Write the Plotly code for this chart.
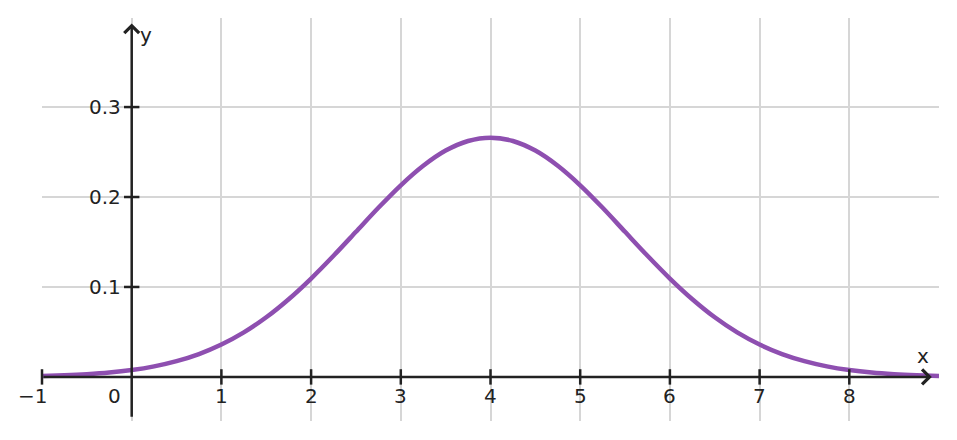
import plotly.graph_objects as go

# data
x_vals = [-1, -0.75, -0.5, -0.25, 0, 0.25, 0.5, 0.75, 1, 1.25, 1.5, 1.75, 2, 2.25, 2.5, 2.75, 3, 3.25,
          3.5, 3.75, 4, 4.25, 4.5, 4.75, 5, 5.25, 5.5, 5.75, 6, 6.25, 6.5, 6.75, 7, 7.25, 7.5, 7.75,
          8, 8.25, 8.5, 8.75, 9]
y_vals = [0.0010, 0.0018, 0.0030, 0.0048, 0.0076, 0.0117, 0.0175, 0.0254, 0.0360, 0.0495, 0.0663,
          0.0864, 0.1094, 0.1347, 0.1613, 0.1880, 0.2130, 0.2347, 0.2516, 0.2623, 0.2660,
          0.2623, 0.2516, 0.2347, 0.2130, 0.1880, 0.1613, 0.1347, 0.1094, 0.0864, 0.0663,
          0.0495, 0.0360, 0.0254, 0.0175, 0.0117, 0.0076, 0.0048, 0.0030, 0.0018, 0.0010]
x_ticks = [-1, 0, 1, 2, 3, 4, 5, 6, 7, 8]
x_tick_labels = ["−1", "0", "1", "2", "3", "4", "5", "6", "7", "8"]
y_ticks = [0.1, 0.2, 0.3]
y_tick_labels = ["0.1", "0.2", "0.3"]

INK = "#222222"
GRID = "#d6d6d6"
CURVE = "#8e4fb0"
FONT = dict(family="DejaVu Sans", size=20, color=INK)

fig = go.Figure()

# curve
fig.add_trace(go.Scatter(x=x_vals, y=y_vals, mode="lines",
                         line=dict(color=CURVE, width=4.5, shape="spline", smoothing=0.8),
                         hoverinfo="skip", showlegend=False, cliponaxis=True))

# tick marks on axes
fig.add_trace(go.Scatter(x=[t for t in x_ticks if t != 0], y=[0] * (len(x_ticks) - 1), mode="markers",
                         marker=dict(symbol="line-ns", size=11, line=dict(color=INK, width=2.5)),
                         hoverinfo="skip", showlegend=False, cliponaxis=False))
fig.add_trace(go.Scatter(x=[0] * len(y_ticks), y=y_ticks, mode="markers",
                         marker=dict(symbol="line-ew", size=11, line=dict(color=INK, width=2.5)),
                         hoverinfo="skip", showlegend=False, cliponaxis=False))

annotations = []
# axes with arrows
annotations.append(dict(x=8.92, y=0, ax=-1, ay=0, xref="x", yref="y", axref="x", ayref="y",
                        text="", showarrow=True, arrowhead=4, arrowsize=1.15, arrowwidth=2.5,
                        arrowcolor=INK))
annotations.append(dict(x=0, y=0.393, ax=0, ay=-0.046, xref="x", yref="y", axref="x", ayref="y",
                        text="", showarrow=True, arrowhead=4, arrowsize=1.15, arrowwidth=2.5,
                        arrowcolor=INK))
# x tick labels
for t, lab in zip(x_ticks, x_tick_labels):
    xs = 0
    if t == 0:
        xs = -17
    elif t == -1:
        xs = -10
    annotations.append(dict(x=t, y=0, xref="x", yref="y", text=lab, showarrow=False,
                            xanchor="center", yanchor="middle", yshift=-19, xshift=xs, font=FONT))
# y tick labels
for t, lab in zip(y_ticks, y_tick_labels):
    annotations.append(dict(x=0, y=t, xref="x", yref="y", text=lab, showarrow=False,
                            xanchor="right", yanchor="middle", xshift=-9, font=FONT))
# axis names
annotations.append(dict(x=9, y=0, xref="x", yref="y", text="x", showarrow=False,
                        xanchor="center", yanchor="middle", xshift=-16, yshift=21, font=FONT))
annotations.append(dict(x=0, y=0.393, xref="x", yref="y", text="y", showarrow=False,
                        xanchor="center", yanchor="middle", xshift=14, yshift=-12, font=FONT))

fig.update_layout(
    width=957, height=440,
    margin=dict(l=42, r=18, t=18, b=19, pad=0, autoexpand=False),
    paper_bgcolor="white", plot_bgcolor="white",
    annotations=annotations,
    xaxis=dict(range=[-1, 9], tickvals=list(range(-1, 10)), showticklabels=False,
               showgrid=True, gridcolor=GRID, gridwidth=1.5, zeroline=False, showline=False,
               automargin=False),
    yaxis=dict(range=[-0.049, 0.399], tickvals=[0, 0.1, 0.2, 0.3], showticklabels=False,
               showgrid=True, gridcolor=GRID, gridwidth=1.5, zeroline=False, showline=False,
               automargin=False),
    font=FONT,
)

fig.write_html("out.html", config={"displayModeBar": False},
               post_script="document.body.style.margin='0';document.body.style.padding='0';")
